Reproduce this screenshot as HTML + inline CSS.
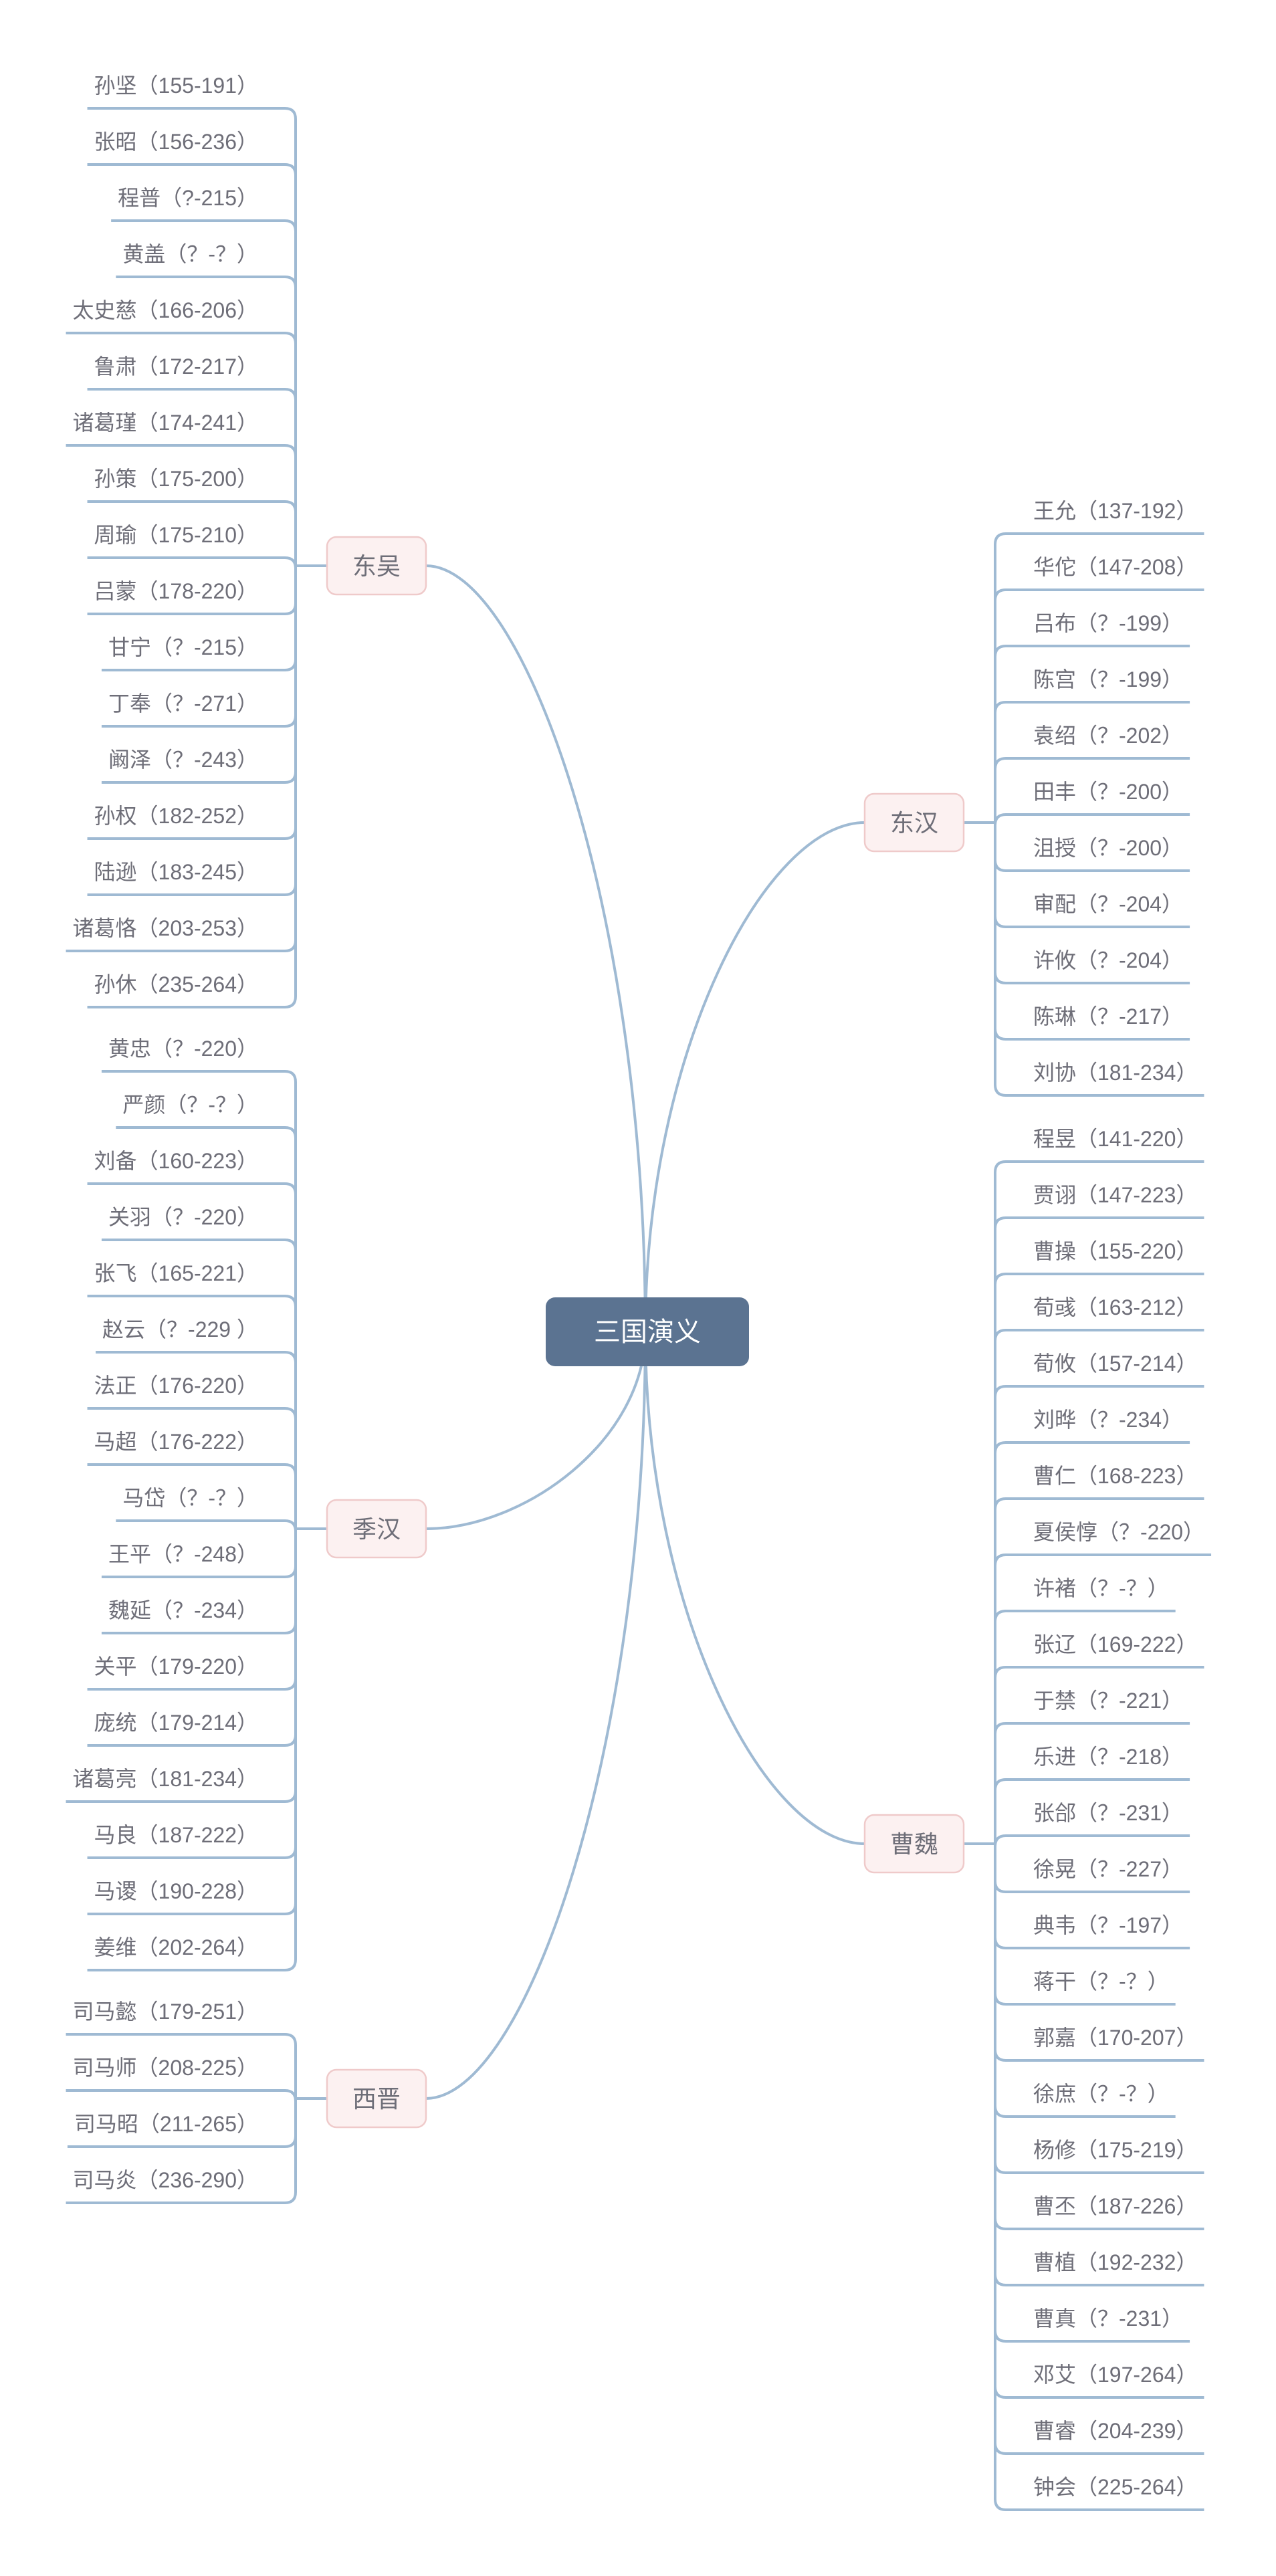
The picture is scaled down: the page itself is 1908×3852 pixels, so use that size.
<!DOCTYPE html>
<html><head><meta charset="utf-8">
<style>
html,body{margin:0;padding:0;background:#fff;}
svg{display:block;}
text{font-family:"Liberation Sans","Noto Sans CJK SC",sans-serif;}
</style></head>
<body>
<svg id="map" width="1908" height="3852" viewBox="0 0 1908 3852" xmlns="http://www.w3.org/2000/svg">
<g id="curves"></g>
<g id="groups"></g>
<g id="center">
<rect x="816" y="1940" width="304" height="103" rx="14" fill="#5b7391"/>
<text x="968" y="2005" font-size="40" fill="#ffffff" text-anchor="middle">三国演义</text>
</g>
</svg>
<script>
const wuNames = ["孙坚（155-191）","张昭（156-236）","程普（?-215）","黄盖（？-？）","太史慈（166-206）","鲁肃（172-217）","诸葛瑾（174-241）","孙策（175-200）","周瑜（175-210）","吕蒙（178-220）","甘宁（？-215）","丁奉（？-271）","阚泽（？-243）","孙权（182-252）","陆逊（183-245）","诸葛恪（203-253）","孙休（235-264）"];
const hanNames = ["黄忠（？-220）","严颜（？-？）","刘备（160-223）","关羽（？-220）","张飞（165-221）","赵云（？-229 ）","法正（176-220）","马超（176-222）","马岱（？-？）","王平（？-248）","魏延（？-234）","关平（179-220）","庞统（179-214）","诸葛亮（181-234）","马良（187-222）","马谡（190-228）","姜维（202-264）"];
const jinNames = ["司马懿（179-251）","司马师（208-225）","司马昭（211-265）","司马炎（236-290）"];
const donghanNames = ["王允（137-192）","华佗（147-208）","吕布（？-199）","陈宫（？-199）","袁绍（？-202）","田丰（？-200）","沮授（？-200）","审配（？-204）","许攸（？-204）","陈琳（？-217）","刘协（181-234）"];
const weiNames = ["程昱（141-220）","贾诩（147-223）","曹操（155-220）","荀彧（163-212）","荀攸（157-214）","刘晔（？-234）","曹仁（168-223）","夏侯惇（？-220）","许褚（？-？）","张辽（169-222）","于禁（？-221）","乐进（？-218）","张郃（？-231）","徐晃（？-227）","典韦（？-197）","蒋干（？-？）","郭嘉（170-207）","徐庶（？-？）","杨修（175-219）","曹丕（187-226）","曹植（192-232）","曹真（？-231）","邓艾（197-264）","曹睿（204-239）","钟会（225-264）"];
const branchLabels = ["东吴","季汉","西晋","东汉","曹魏"];
const branchSides = ["left","left","left","right","right"];
const branchFirstY = [162,1602,3042,798,1737];

const NS="http://www.w3.org/2000/svg";
const LINE="#9fbad3", TXT="#6e6e78";
const ROWH=84, R=16;
const LSPINE=442, RSPINE=1488;
const LTEXT_END=386, RTEXT_START=1545;
const LNODE_X=489, RNODE_X=1293, NODE_W=148, NODE_H=86;
const CX=965, CY=1991;
const lists=[wuNames,hanNames,jinNames,donghanNames,weiNames];
const groups=document.getElementById('groups');
const curves=document.getElementById('curves');
function mk(tag,attrs,parent){const e=document.createElementNS(NS,tag);for(const k in attrs)e.setAttribute(k,attrs[k]);parent.appendChild(e);return e;}

lists.forEach((names,bi)=>{
  const side=branchSides[bi];
  const y0=branchFirstY[bi];
  const mid=Math.floor((names.length-1)/2);
  const ny=y0+mid*ROWH+12;
  const g=mk('g',{},groups);
  
  
  const spine= side==='left'?LSPINE:RSPINE;
  const yl=y0+(names.length-1)*ROWH;
  const sp=mk('path',{d:`M${spine},${y0+R} L${spine},${yl-R}`,stroke:LINE,'stroke-width':4,fill:'none'},g);
  
  
  names.forEach((nm,i)=>{
    const y=y0+i*ROWH;
    const it=mk('g',{},g);
    
    
    const t=mk('text',{y:y-23,'font-size':32,fill:TXT},it);
    t.textContent=nm;
    if(side==='left'){t.setAttribute('x',LTEXT_END);t.setAttribute('text-anchor','end');}
    else{t.setAttribute('x',RTEXT_START);}
    const w=t.getComputedTextLength();
    const above = y<ny;
    let d;
    if(side==='left'){
      const x0=LTEXT_END-w-10;
      d=`M${x0},${y} L${spine-R},${y} Q${spine},${y} ${spine},${above?y+R:y-R}`;
    }else{
      const x1=RTEXT_START+w+10;
      d=`M${x1},${y} L${spine+R},${y} Q${spine},${y} ${spine},${above?y+R:y-R}`;
    }
    const ln=mk('path',{d:d,stroke:LINE,'stroke-width':4,fill:'none'},it);
    
    
  });
  const nx= side==='left'?LNODE_X:RNODE_X;
  const conn=mk('path',{d: side==='left'?`M${spine},${ny} L${nx},${ny}`:`M${nx+NODE_W},${ny} L${spine},${ny}`,stroke:LINE,'stroke-width':4,fill:'none'},g);
  
  
  const ng=mk('g',{},g);
  
  
  mk('rect',{x:nx,y:ny-NODE_H/2,width:NODE_W,height:NODE_H,rx:14,fill:'#fcf1f1',stroke:'#efcaca','stroke-width':2.5},ng);
  const nt=mk('text',{x:nx+NODE_W/2,y:ny+13,'font-size':36,fill:TXT,'text-anchor':'middle'},ng);
  nt.textContent=branchLabels[bi];
  const ex= side==='left'?nx+NODE_W:nx;
  const c=mk('path',{d:`M${ex},${ny} C${ex+(CX-ex)*0.45},${ny} ${CX},${ny+(CY-ny)*0.45} ${CX},${CY}`,stroke:LINE,'stroke-width':4,fill:'none'},curves);
  
  
});
</script>
</body></html>
